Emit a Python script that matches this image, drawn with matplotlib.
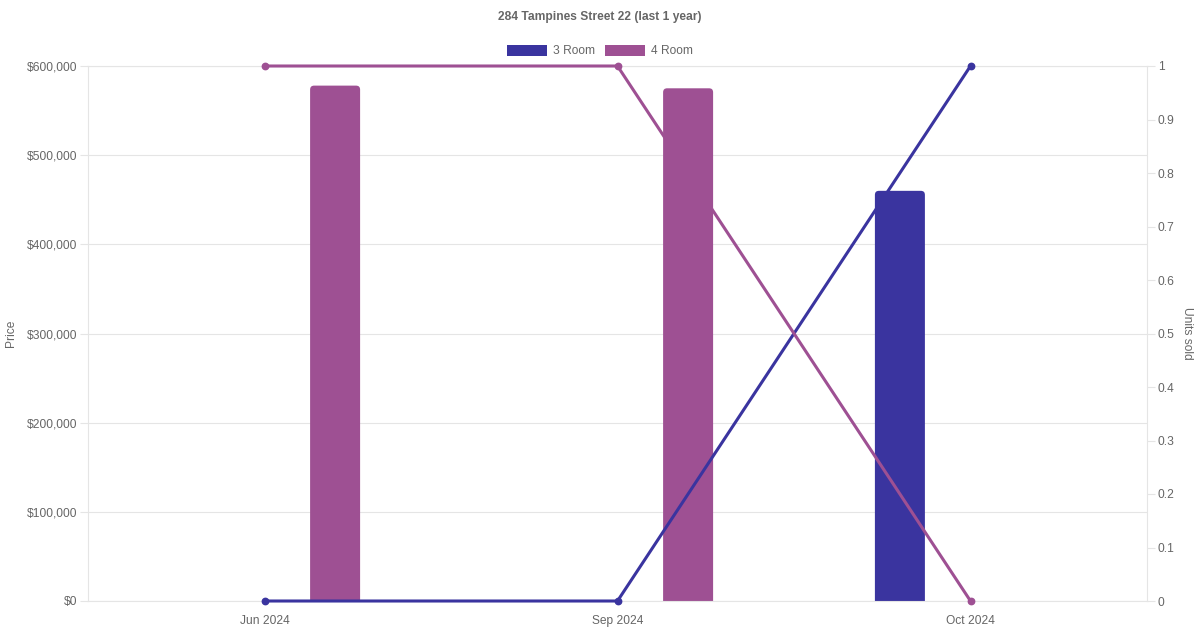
import numpy as np
import matplotlib
matplotlib.use("Agg")
import matplotlib.pyplot as plt
from matplotlib.patches import FancyBboxPatch, Rectangle

# ---- data ----
categories = ["Jun 2024", "Sep 2024", "Oct 2024"]
series_names = ["3 Room", "4 Room"]
price_3room = [np.nan, np.nan, 460000]
price_4room = [578000, 575000, np.nan]
units_3room = [0, 0, 1]
units_4room = [1, 1, 0]
price_ticks = [0, 100000, 200000, 300000, 400000, 500000, 600000]
price_labels = ["$0", "$100,000", "$200,000", "$300,000", "$400,000", "$500,000", "$600,000"]
unit_ticks = [0, 0.1, 0.2, 0.3, 0.4, 0.5, 0.6, 0.7, 0.8, 0.9, 1]
unit_labels = ["0", "0.1", "0.2", "0.3", "0.4", "0.5", "0.6", "0.7", "0.8", "0.9", "1"]
title = "284 Tampines Street 22 (last 1 year)"

# ---- style ----
C3 = "#3a349f"
C4 = "#9e5093"
GRID = "#e5e5e5"
TXT = "#666666"
plt.rcParams["font.family"] = ["Liberation Sans", "DejaVu Sans"]
FS = 8.64  # 12px at 100 dpi

W, H = 1200, 630
fig = plt.figure(figsize=(W / 100, H / 100), dpi=100)
L, R, T, B = 88, 1147, 66, 601
ax = fig.add_axes([L / W, 1 - B / H, (R - L) / W, (B - T) / H])

x = np.arange(len(categories))
ax.set_xlim(-0.5, len(categories) - 0.5)
ax.set_ylim(0, 600000)

bw = 50 / ((R - L) / 3)
off = 0.2
bars3 = ax.bar(x - off, price_3room, width=bw, color=C3, label=series_names[0], zorder=2)
bars4 = ax.bar(x + off, price_4room, width=bw, color=C4, label=series_names[1], zorder=2)

# round top corners: replace rectangles with rounded boxes extending below baseline
px_x = 1 / ((R - L) / 3)           # data units per pixel, x
px_y = 600000 / (B - T)            # data units per pixel, y
rad = 4
for bars, col in ((bars3, C3), (bars4, C4)):
    for p in bars.patches:
        h = p.get_height()
        if not np.isfinite(h) or h == 0:
            continue
        p.set_visible(False)
        x0 = p.get_x()
        w = p.get_width()
        ext = rad * 2 * px_y
        fb = FancyBboxPatch((x0, -ext), w, h + ext,
                            boxstyle=f"round,pad=0,rounding_size={rad * px_x}",
                            mutation_aspect=px_y / px_x,
                            facecolor=col, edgecolor="none", zorder=2)
        ax.add_patch(fb)

ax.set_yticks(price_ticks)
ax.set_yticklabels(price_labels)
ax.yaxis.grid(True, color=GRID, linewidth=0.8, zorder=0)
ax.xaxis.grid(False)
ax.set_axisbelow(True)
ax.tick_params(axis="y", length=5.8, width=0.8, color=GRID, labelcolor=TXT, labelsize=FS, pad=2)
ax.set_xticks(x)
ax.set_xticklabels(categories)
ax.tick_params(axis="x", length=0, labelcolor=TXT, labelsize=FS, pad=10)
for s in ax.spines.values():
    s.set_color(GRID)
    s.set_linewidth(0.8)
ax.set_ylabel("Price", color=TXT, fontsize=FS, labelpad=7)

ax2 = ax.twinx()
ax2.set_ylim(0, 1)
ax2.plot(x, units_3room, color=C3, linewidth=2.2, marker="o", markersize=4.6, zorder=3, clip_on=False)
ax2.plot(x, units_4room, color=C4, linewidth=2.2, marker="o", markersize=4.6, zorder=3, clip_on=False)
ax2.set_yticks(unit_ticks)
ax2.set_yticklabels(unit_labels)
ax2.tick_params(axis="y", length=5.8, width=0.8, color=GRID, labelcolor=TXT, labelsize=FS, pad=2)
for s in ax2.spines.values():
    s.set_visible(False)
ax2.set_ylabel("Units sold", color=TXT, fontsize=FS, rotation=-90, labelpad=13)

fig.text(0.5, 1 - 17 / H, title, ha="center", va="center", color=TXT, fontsize=FS, fontweight="bold")

handles = [Rectangle((0, 0), 1, 1, facecolor=C3, edgecolor="none"),
           Rectangle((0, 0), 1, 1, facecolor=C4, edgecolor="none")]
fig.legend(handles, series_names, loc="center", bbox_to_anchor=(0.5, 1 - 51 / H), ncol=2,
           frameon=False, fontsize=FS, labelcolor=TXT, handlelength=3.33, handleheight=1.0,
           handletextpad=0.5, columnspacing=0.85, borderaxespad=0, borderpad=0)

fig.savefig("out.png", dpi=100)
